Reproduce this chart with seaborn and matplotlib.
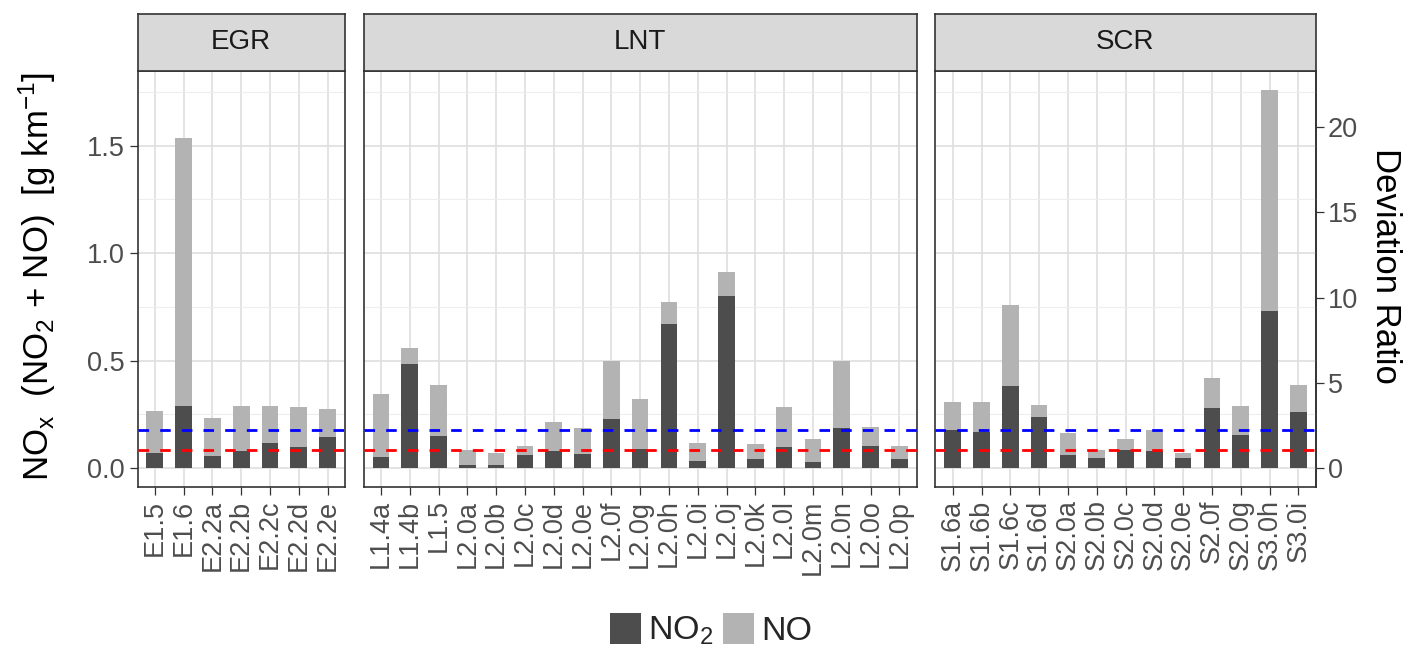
import numpy as np
import pandas as pd
import matplotlib
matplotlib.use("Agg")
import matplotlib.pyplot as plt
import seaborn as sns
from matplotlib.patches import Patch
from matplotlib.ticker import MultipleLocator, NullLocator

sns.set_theme(style="white")
plt.rcParams["font.family"] = ["Liberation Sans", "DejaVu Sans"]
plt.rcParams["mathtext.fontset"] = "custom"
plt.rcParams["mathtext.rm"] = "Liberation Sans"
plt.rcParams["mathtext.it"] = "Liberation Sans:italic"

# ---- data: NOx emissions per vehicle, split into NO2 and NO [g/km] ----
groups = ["EGR", "LNT", "SCR"]

egr_codes = ["E1.5", "E1.6", "E2.2a", "E2.2b", "E2.2c", "E2.2d", "E2.2e"]
egr_no2 = [0.072, 0.290, 0.058, 0.079, 0.117, 0.097, 0.144]
egr_no = [0.193, 1.247, 0.174, 0.211, 0.173, 0.186, 0.133]

lnt_codes = ["L1.4a", "L1.4b", "L1.5", "L2.0a", "L2.0b", "L2.0c", "L2.0d",
             "L2.0e", "L2.0f", "L2.0g", "L2.0h", "L2.0i", "L2.0j", "L2.0k",
             "L2.0l", "L2.0m", "L2.0n", "L2.0o", "L2.0p"]
lnt_no2 = [0.052, 0.483, 0.150, 0.015, 0.015, 0.060, 0.079, 0.066, 0.227,
           0.091, 0.670, 0.032, 0.803, 0.040, 0.099, 0.028, 0.187, 0.104, 0.040]
lnt_no = [0.294, 0.077, 0.235, 0.068, 0.056, 0.044, 0.134, 0.121, 0.270,
          0.231, 0.101, 0.084, 0.108, 0.070, 0.184, 0.107, 0.313, 0.089, 0.064]

scr_codes = ["S1.6a", "S1.6b", "S1.6c", "S1.6d", "S2.0a", "S2.0b", "S2.0c",
             "S2.0d", "S2.0e", "S2.0f", "S2.0g", "S3.0h", "S3.0i"]
scr_no2 = [0.175, 0.169, 0.381, 0.240, 0.060, 0.046, 0.085, 0.079, 0.046,
           0.279, 0.156, 0.733, 0.263]
scr_no = [0.133, 0.139, 0.377, 0.055, 0.101, 0.037, 0.050, 0.100, 0.025,
          0.139, 0.133, 1.025, 0.122]

limit_lab = 0.086      # red reference line [g/km]
limit_rde = 0.175      # blue reference line [g/km]
ratio_unit = 0.0793    # g/km corresponding to a deviation ratio of 1

panels = {
    "EGR": (egr_codes, egr_no2, egr_no),
    "LNT": (lnt_codes, lnt_no2, lnt_no),
    "SCR": (scr_codes, scr_no2, scr_no),
}

NO2_COL = "#4D4D4D"
NO_COL = "#B3B3B3"
EDGE = "#333333"
TICK_TXT = "#4D4D4D"
TICK_SIZE = 19.5

# ---- figure layout (pixel based) ----
W, H = 1413, 652
fig = plt.figure(figsize=(W / 100, H / 100), dpi=100)
fig.patch.set_facecolor("white")


def fx(px):
    return px / W


def fy(py):
    return 1 - py / H


unit = 28.8
gap = 18.8
x0 = 137.5
panel_top, panel_bot = 71.0, 487.0
strip_top = 13.7

x = x0
for g in groups:
    codes, no2, no = panels[g]
    n = len(codes)
    width = (n + 0.2) * unit
    ax = fig.add_axes([fx(x), fy(panel_bot), width / W,
                       (panel_bot - panel_top) / H])

    df = pd.DataFrame({"code": codes, "no2": no2, "no": no})
    df["total"] = df["no2"] + df["no"]

    # NO stacked on NO2: draw the total in light grey, NO2 over it in dark grey
    sns.barplot(data=df, x="code", y="total", order=codes, color=NO_COL,
                saturation=1, width=0.58, errorbar=None, ax=ax, zorder=2,
                linewidth=0)
    sns.barplot(data=df, x="code", y="no2", order=codes, color=NO2_COL,
                saturation=1, width=0.58, errorbar=None, ax=ax, zorder=3,
                linewidth=0)

    ax.axhline(limit_rde, color="#0000FF", lw=2.0, ls=(0, (3.8, 4.0)), zorder=4)
    ax.axhline(limit_lab, color="#FF0000", lw=2.0, ls=(0, (3.8, 4.0)), zorder=4)

    ax.set_xlim(-0.6, n - 0.4)
    ax.set_ylim(-0.088, 1.848)
    ax.set_facecolor("white")
    ax.set_axisbelow(True)
    ax.yaxis.set_major_locator(MultipleLocator(0.5))
    ax.yaxis.set_minor_locator(MultipleLocator(0.25))
    ax.grid(True, which="major", color="#DEDEDE", lw=1.2)
    ax.grid(True, which="minor", axis="y", color="#EDEDED", lw=0.8)
    ax.grid(False, which="minor", axis="x")

    for sp in ax.spines.values():
        sp.set_color(EDGE)
        sp.set_linewidth(1.2)

    ax.set_xlabel("")
    ax.set_ylabel("")
    ax.set_xticks(range(n))
    ax.set_xticklabels(codes, rotation=90, ha="center", va="top")
    ax.tick_params(axis="x", which="major", bottom=True, length=6, width=0.9,
                   color=EDGE, labelsize=TICK_SIZE, labelcolor=TICK_TXT, pad=3)
    ax.tick_params(axis="y", which="minor", length=0)

    if g == "EGR":
        ax.set_yticks([0, 0.5, 1.0, 1.5])
        ax.set_yticklabels(["0.0", "0.5", "1.0", "1.5"])
        ax.tick_params(axis="y", which="major", left=True, length=6, width=0.9,
                       color=EDGE, labelsize=TICK_SIZE, labelcolor=TICK_TXT,
                       pad=3)
    else:
        ax.tick_params(axis="y", which="major", left=False, labelleft=False)

    if g == "SCR":
        sec = ax.secondary_yaxis(
            "right",
            functions=(lambda v: v / ratio_unit, lambda r: r * ratio_unit))
        sec.set_yticks([0, 5, 10, 15, 20])
        sec.yaxis.set_minor_locator(NullLocator())
        sec.tick_params(axis="y", length=6, width=0.9, color=EDGE,
                        labelsize=TICK_SIZE, labelcolor=TICK_TXT, pad=3)
        for sp in sec.spines.values():
            sp.set_color(EDGE)
            sp.set_linewidth(1.2)

    # facet strip
    sax = fig.add_axes([fx(x), fy(panel_top), width / W,
                        (panel_top - strip_top) / H])
    sax.set_facecolor("#D9D9D9")
    sax.set_xticks([])
    sax.set_yticks([])
    for sp in sax.spines.values():
        sp.set_color(EDGE)
        sp.set_linewidth(1.2)
    sax.text(0.5, 0.5, g, transform=sax.transAxes, ha="center", va="center",
             fontsize=20, color="#1A1A1A")

    x += width + gap

# axis titles
fig.text(fx(37), fy(276),
         r"NO$_\mathregular{x}$  (NO$_\mathregular{2}$ + NO)  [g km$^\mathregular{-1}$]",
         rotation=90, ha="center", va="center", fontsize=25, color="black")
fig.text(fx(1385), fy(266), "Deviation Ratio", rotation=270,
         ha="center", va="center", fontsize=25, color="black")

# legend
handles = [Patch(facecolor=NO2_COL, edgecolor="none"),
           Patch(facecolor=NO_COL, edgecolor="none")]
fig.legend(handles, [r"NO$_\mathregular{2}$", "NO"], loc="center",
           bbox_to_anchor=(fx(711), fy(630)), ncol=2, frameon=False,
           fontsize=24.5, handlelength=0.9, handleheight=1.05,
           handletextpad=0.2, columnspacing=0.3, borderaxespad=0)

fig.savefig("out.png", dpi=100, facecolor="white")
